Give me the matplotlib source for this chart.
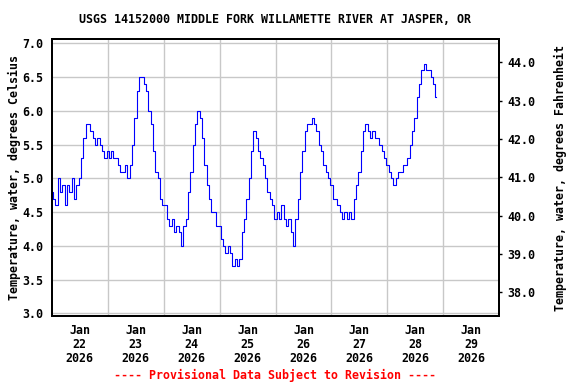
import matplotlib
matplotlib.use("Agg")
import matplotlib.pyplot as plt
import numpy as np
import pandas as pd

# hourly water temperature (deg C), starting Jan 22 00:00
jan22 = [4.8, 4.7, 4.6, 5.0, 4.8, 4.9, 4.6, 4.9, 4.8, 5.0, 4.7, 4.9,
         5.0, 5.3, 5.6, 5.8, 5.8, 5.7, 5.6, 5.5, 5.6, 5.5, 5.4, 5.3]
jan23 = [5.4, 5.3, 5.4, 5.3, 5.3, 5.2, 5.1, 5.1, 5.2, 5.0, 5.2, 5.5,
         5.9, 6.3, 6.5, 6.5, 6.4, 6.3, 6.0, 5.8, 5.4, 5.1, 5.0, 4.7]
jan24 = [4.6, 4.6, 4.4, 4.3, 4.4, 4.2, 4.3, 4.2, 4.0, 4.3, 4.4, 4.8,
         5.1, 5.5, 5.8, 6.0, 5.9, 5.6, 5.2, 4.9, 4.7, 4.5, 4.5, 4.3]
jan25 = [4.3, 4.1, 4.0, 3.9, 4.0, 3.9, 3.7, 3.8, 3.7, 3.8, 4.2, 4.4,
         4.7, 5.0, 5.4, 5.7, 5.6, 5.4, 5.3, 5.2, 5.0, 4.8, 4.7, 4.6]
jan26 = [4.4, 4.5, 4.4, 4.6, 4.4, 4.3, 4.4, 4.2, 4.0, 4.4, 4.7, 5.1,
         5.4, 5.7, 5.8, 5.8, 5.9, 5.8, 5.7, 5.5, 5.4, 5.2, 5.1, 5.0]
jan27 = [4.9, 4.7, 4.7, 4.6, 4.5, 4.4, 4.5, 4.4, 4.5, 4.4, 4.7, 4.9,
         5.1, 5.4, 5.7, 5.8, 5.7, 5.6, 5.7, 5.6, 5.6, 5.5, 5.4, 5.3]
jan28 = [5.2, 5.1, 5.0, 4.9, 5.0, 5.1, 5.1, 5.2, 5.2, 5.3, 5.5, 5.7,
         5.9, 6.2, 6.4, 6.6, 6.7, 6.6, 6.6, 6.5, 6.4, 6.2]

temp_c = jan22 + jan23 + jan24 + jan25 + jan26 + jan27 + jan28
times = pd.date_range("2026-01-22 00:00", periods=len(temp_c), freq="h")

left_ticks = [3.0, 3.5, 4.0, 4.5, 5.0, 5.5, 6.0, 6.5, 7.0]
right_ticks = [38.0, 39.0, 40.0, 41.0, 42.0, 43.0, 44.0]
label_days = pd.date_range("2026-01-22 12:00", "2026-01-29 12:00", freq="D")
grid_days = pd.date_range("2026-01-23", "2026-01-29", freq="D")

title = "USGS 14152000 MIDDLE FORK WILLAMETTE RIVER AT JASPER, OR"
footer = "---- Provisional Data Subject to Revision ----"

plt.rcParams["font.family"] = ["DejaVu Sans Mono"]
plt.rcParams["font.weight"] = "bold"
fs = 8.4

fig = plt.figure(figsize=(5.76, 3.84), dpi=100)
ax = fig.add_axes([0.0898, 0.177, 0.777, 0.7206])

ax.plot(times, temp_c, color="#0000ff", lw=0.8, drawstyle="steps-mid", zorder=3)

ax.set_xlim(pd.Timestamp("2026-01-22"), pd.Timestamp("2026-01-30"))
ax.set_ylim(2.96, 7.06)

ax.set_yticks(left_ticks)
ax.set_yticklabels([f"{t:.1f}" for t in left_ticks], fontsize=fs, fontweight="bold")
ax.set_xticks(grid_days)
ax.set_xticklabels([])
ax.set_xticks(label_days, minor=True)
ax.set_xticklabels([f"{d:%b}\n{d.day}\n{d.year}" for d in label_days], minor=True,
                   fontsize=fs, fontweight="bold", linespacing=1.1)
ax.tick_params(axis="x", which="both", length=0, pad=6)
ax.tick_params(axis="y", length=0, pad=6)
ax.grid(True, which="major", color="#c8c8c8", lw=1.0)
ax.set_axisbelow(True)
for s in ax.spines.values():
    s.set_linewidth(1.4)

ax.set_ylabel("Temperature, water, degrees Celsius", fontsize=fs, fontweight="bold", labelpad=1)

ax2 = ax.twinx()
ax2.set_ylim(37.38, 44.60)
ax2.set_yticks(right_ticks)
ax2.set_yticklabels([f"{t:.1f}" for t in right_ticks], fontsize=fs, fontweight="bold")
ax2.tick_params(axis="y", length=2, width=1, pad=4)
ax2.set_ylabel("Temperature, water, degrees Fahrenheit", fontsize=fs, fontweight="bold", labelpad=13)
for s in ax2.spines.values():
    s.set_linewidth(1.4)

fig.text(0.4774, 0.9505, title, ha="center", va="center", fontsize=fs, fontweight="bold")
fig.text(0.4774, 0.0234, footer, ha="center", va="center", fontsize=fs,
         fontweight="bold", color="red")

fig.savefig("out.png", dpi=100)
